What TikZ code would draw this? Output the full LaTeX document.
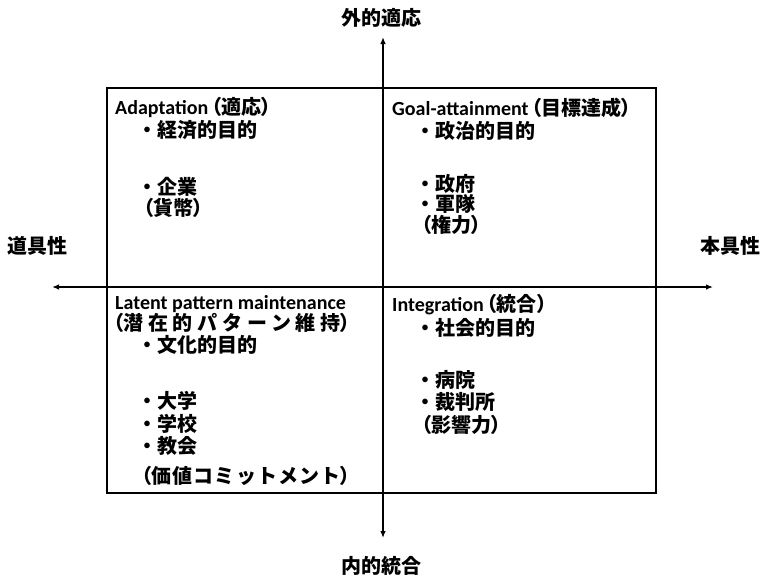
\documentclass[tikz,border=0pt]{standalone}
\usepackage{fontspec}
\setmainfont{Carlito}
\newfontfamily\cjk{Noto Sans CJK JP}
\newfontfamily\cjkp{Noto Sans CJK JP}[RawFeature=+palt]
\usetikzlibrary{arrows.meta}
\newcommand\lpar{{\cjkp （}}
\newcommand\rpar{{\cjkp ）}}
\begin{document}
\begin{tikzpicture}[x=1pt,y=-1pt,
  txt/.style={anchor=west, inner sep=0pt, font=\bfseries\fontsize{20}{24}\selectfont},
  axlabel/.style={inner sep=0pt, font=\cjk\bfseries\fontsize{20}{24}\selectfont},
  axisline/.style={line width=1.3pt, -{Latex[length=7pt,width=5.5pt]}},
  framebox/.style={draw, line width=2pt, minimum width=549pt, minimum height=405pt, inner sep=0pt}]
\useasboundingbox (0,0) rectangle (765,576);
\node[framebox] (frame) at (381.5,290.5) {};
\coordinate (o) at (383,287);
\coordinate (top) at (383,37);
\coordinate (bot) at (383,538);
\coordinate (lft) at (52,287);
\coordinate (rgt) at (713,287);
\draw[axisline] (o) -- (top);
\draw[axisline] (o) -- (bot);
\draw[axisline] (o) -- (lft);
\draw[axisline] (o) -- (rgt);
\node[axlabel] (ltop) at (381,18) {外的適応};
\node[axlabel] (lbot) at (381,566) {内的統合};
\node[axlabel] (llft) at (37,246) {道具性};
\node[axlabel] (lrgt) at (730,246) {本具性};
% Q1
\node[txt] (a1) at (115,107) {Adaptation\hspace{3pt}\lpar{\cjk 適応}\rpar};
\node[txt] (a2) at (137,130) {\cjk ・経済的目的};
\node[txt] (a3) at (137,187) {\cjk ・企業};
\node[txt] (a4) at (143,208) {\lpar{\cjk 貨幣}\rpar};
% Q2
\node[txt] (b1) at (392,108) {Goal-attainment\hspace{3pt}\lpar{\cjk 目標達成}\rpar};
\node[txt] (b2) at (415,131) {\cjk ・政治的目的};
\node[txt] (b3) at (415,184) {\cjk ・政府};
\node[txt] (b4) at (415,204) {\cjk ・軍隊};
\node[txt] (b5) at (421,225) {\lpar{\cjk 権力}\rpar};
% Q3
\node[txt] (c1) at (115,304) {Latent pattern maintenance};
\node[txt] (c2) at (113,323) {\lpar{\cjk\addfontfeature{LetterSpace=24}潜在的パターン維持}\rpar};
\node[txt] (c3) at (137,345) {\cjk ・文化的目的};
\node[txt] (c4) at (137,401) {\cjk ・大学};
\node[txt] (c5) at (137,424) {\cjk ・学校};
\node[txt] (c6) at (137,446) {\cjk ・教会};
\node[txt] (c7) at (141,476) {\lpar{\cjk\addfontfeature{LetterSpace=6}価値コミットメント}\rpar};
% Q4
\node[txt] (d1) at (392,305) {Integration\hspace{3pt}\lpar{\cjk 統合}\rpar};
\node[txt] (d2) at (415,328) {\cjk ・社会的目的};
\node[txt] (d3) at (415,380) {\cjk ・病院};
\node[txt] (d4) at (415,402) {\cjk ・裁判所};
\node[txt] (d5) at (421,425) {\lpar{\cjk 影響力}\rpar};
\end{tikzpicture}
\end{document}
